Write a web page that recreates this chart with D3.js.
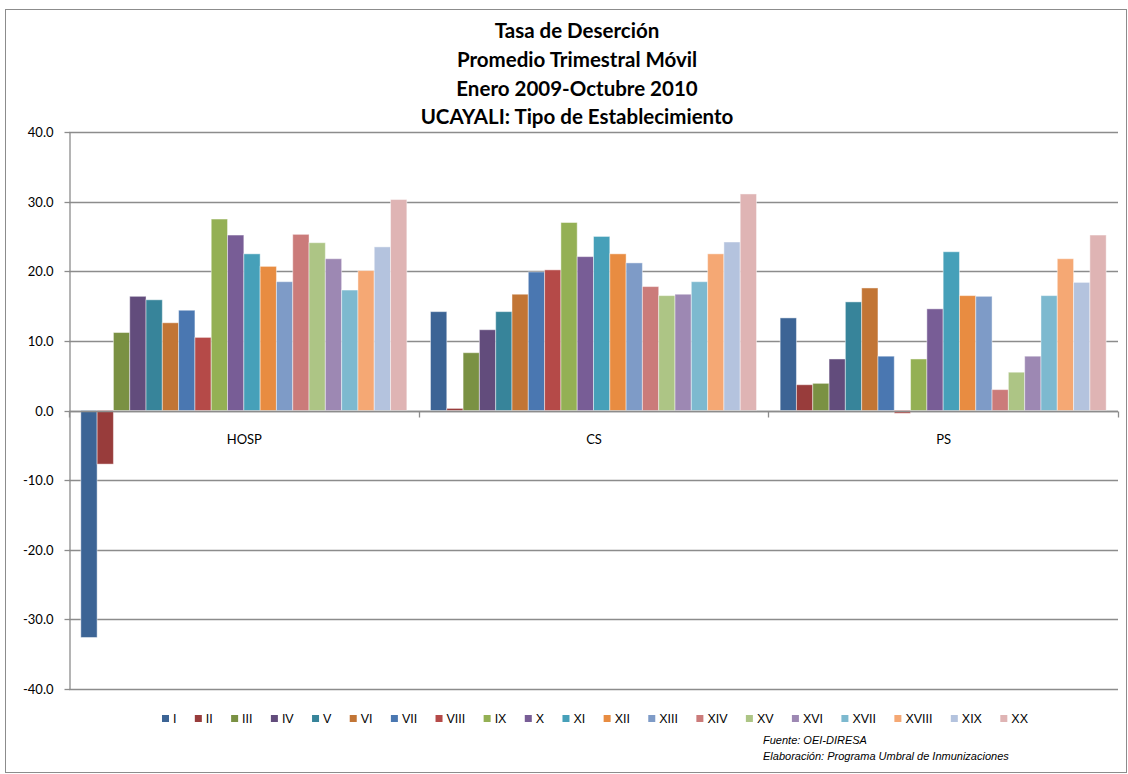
<!DOCTYPE html>
<html>
<head>
<meta charset="utf-8">
<script src="https://cdn.jsdelivr.net/npm/d3@7"></script>
<style>
  html, body { margin: 0; padding: 0; background: #fff; }
  svg { display: block; }
</style>
</head>
<body>
<svg id="chart" width="1128" height="774"></svg>
<script>
const titleLines = ["Tasa de Deserción", "Promedio Trimestral Móvil", "Enero 2009-Octubre 2010", "UCAYALI: Tipo de Establecimiento"];
const categories = ["HOSP", "CS", "PS"];
const seriesNames = ["I","II","III","IV","V","VI","VII","VIII","IX","X","XI","XII","XIII","XIV","XV","XVI","XVII","XVIII","XIX","XX"];
const valuesHOSP = [-32.6, -7.7, 11.2, 16.4, 15.9, 12.6, 14.4, 10.5, 27.5, 25.2, 22.5, 20.7, 18.5, 25.3, 24.1, 21.8, 17.3, 20.1, 23.5, 30.3];
const valuesCS   = [14.2, 0.3, 8.3, 11.6, 14.2, 16.7, 19.9, 20.2, 27.0, 22.1, 25.0, 22.5, 21.2, 17.8, 16.5, 16.7, 18.5, 22.5, 24.2, 31.1];
const valuesPS   = [13.3, 3.7, 3.9, 7.4, 15.6, 17.6, 7.8, -0.4, 7.4, 14.6, 22.8, 16.5, 16.4, 3.0, 5.5, 7.8, 16.5, 21.8, 18.4, 25.2];
const seriesColors = ["#3c6495","#983c3b","#7a9143","#624c7c","#37849a","#c27535","#4a77b1","#b54a48","#94b054","#785d96","#46a0b9","#e88c41","#7e9bc7","#cb7b7a","#adc585","#9d88b3","#7db9cf","#f5a874","#b4c3de","#dfb4b4"];
const yTicks = [-40, -30, -20, -10, 0, 10, 20, 30, 40];
const footLines = ["Fuente: OEI-DIRESA", "Elaboración: Programa Umbral de Inmunizaciones"];

const groupValues = [valuesHOSP, valuesCS, valuesPS];

const svg = d3.select("#chart");
const plot = {left: 69, right: 1118, top: 132, bottom: 689};

// outer border
svg.append("rect").attr("x", 5.5).attr("y", 9.5).attr("width", 1121).attr("height", 763)
  .attr("fill", "#fff").attr("stroke", "#8c8c8c").attr("stroke-width", 1);

// title
const title = svg.append("text").attr("text-anchor", "middle")
  .attr("font-family", "Lato, 'Open Sans', sans-serif").attr("font-weight", "bold")
  .attr("font-size", 20.5).attr("fill", "#000");
titleLines.forEach((t, i) => {
  title.append("tspan").attr("x", 577).attr("y", 38 + i * 28.8).text(t);
});

const y = d3.scaleLinear().domain([-40, 40]).range([plot.bottom, plot.top]);
const x0 = d3.scaleBand().domain(categories).range([plot.left, plot.right]).paddingInner(0).paddingOuter(0);
const x1 = d3.scaleBand().domain(seriesNames).range([0, x0.bandwidth()]).paddingInner(0).paddingOuter(0.725);

// gridlines
svg.append("g").selectAll("line").data(yTicks).join("line")
  .attr("x1", plot.left).attr("x2", plot.right)
  .attr("y1", d => Math.round(y(d)) + 0.5).attr("y2", d => Math.round(y(d)) + 0.5)
  .attr("stroke", "#8c8c8c").attr("stroke-width", 1.3);

// y axis
const fmt = d3.format(".1f");
const yAxis = d3.axisLeft(y).tickValues(yTicks).tickFormat(d => fmt(d).replace("\u2212", "-")).tickSize(5).tickSizeOuter(0);
const gy = svg.append("g").attr("transform", `translate(${plot.left + 0.5},0)`).call(yAxis);
gy.select(".domain").attr("stroke", "#8c8c8c").attr("stroke-width", 1.3);
gy.selectAll(".tick line").attr("stroke", "#8c8c8c").attr("stroke-width", 1.3);
gy.selectAll(".tick text").attr("font-family", "Lato, 'Open Sans', sans-serif").attr("font-size", 13)
  .attr("fill", "#000").attr("x", -16);
gy.selectAll(".tick").attr("transform", d => `translate(0,${Math.round(y(d)) + 0.5})`);

// bars
const groups = svg.append("g").selectAll("g").data(categories).join("g")
  .attr("transform", d => `translate(${x0(d)},0)`);
groups.each(function(cat, gi) {
  d3.select(this).selectAll("rect").data(groupValues[gi].map((v, i) => ({name: seriesNames[i], v, i})))
    .join("rect")
    .attr("x", d => x1(d.name))
    .attr("width", x1.bandwidth())
    .attr("y", d => Math.min(y(d.v), y(0)))
    .attr("height", d => Math.abs(y(d.v) - y(0)))
    .attr("fill", d => seriesColors[d.i])
    .attr("stroke", "#ffffff").attr("stroke-opacity", 0.45).attr("stroke-width", 1);
});

// category axis (at zero)
const zeroY = Math.round(y(0)) + 0.5;
svg.append("line").attr("x1", plot.left).attr("x2", plot.right).attr("y1", zeroY).attr("y2", zeroY)
  .attr("stroke", "#8c8c8c").attr("stroke-width", 1.3);
const bounds = [plot.left, x0("CS"), x0("PS"), plot.right];
svg.append("g").selectAll("line").data(bounds).join("line")
  .attr("x1", d => Math.round(d) + 0.5).attr("x2", d => Math.round(d) + 0.5)
  .attr("y1", zeroY).attr("y2", zeroY + 6)
  .attr("stroke", "#8c8c8c").attr("stroke-width", 1.3);
svg.append("g").selectAll("text").data(categories).join("text")
  .attr("x", d => x0(d) + x0.bandwidth() / 2 + 0.5).attr("y", zeroY + 32)
  .attr("text-anchor", "middle").attr("font-family", "Lato, 'Open Sans', sans-serif").attr("font-size", 13)
  .attr("fill", "#000").text(d => d);

// legend
const legendFont = "'Liberation Sans Narrow', 'Arial Narrow', 'Liberation Sans', sans-serif";
const lg = svg.append("g");
const items = [];
seriesNames.forEach((n, i) => {
  const g = lg.append("g");
  g.append("rect").attr("x", 0).attr("y", -8).attr("width", 7).attr("height", 7).attr("fill", seriesColors[i]);
  const t = g.append("text").attr("x", 11).attr("y", 0).attr("font-family", legendFont).attr("font-size", 12.5)
    .attr("fill", "#000").text(n);
  const w = t.node().getComputedTextLength();
  items.push({g, w});
});
const legendLeft = 162, legendRight = 1028;
const textSum = items.reduce((s, it) => s + 11 + it.w, 0);
const gapItem = (legendRight - legendLeft - textSum) / (items.length - 1);
let cx = legendLeft;
items.forEach(it => {
  it.g.attr("transform", `translate(${cx},723)`);
  cx += 11 + it.w + gapItem;
});

// footnote
const ft = svg.append("g").attr("font-family", legendFont).attr("font-style", "italic").attr("font-size", 11).attr("fill", "#000");
footLines.forEach((t, i) => {
  ft.append("text").attr("x", 763).attr("y", 744 + i * 16).text(t);
});
</script>
</body>
</html>
